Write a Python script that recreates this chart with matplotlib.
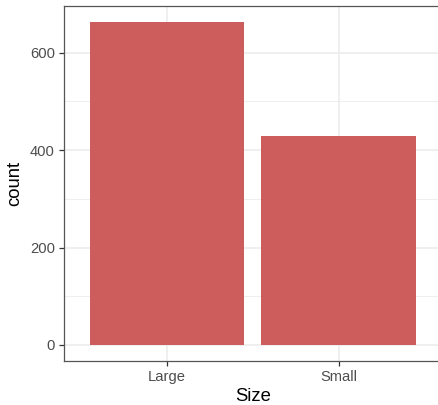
import numpy as np
import matplotlib.pyplot as plt
from matplotlib.ticker import MultipleLocator

plt.rcParams['font.family'] = ['Liberation Sans', 'DejaVu Sans']

# Counts per Size category
categories = ['Large', 'Small']
counts = [663, 430]

fig = plt.figure(figsize=(4.38, 4.05), dpi=100)
# panel runs slightly past the right edge, as in the reference
ax = fig.add_axes([64/438, 44/405, (441.7-64)/438, (399-44)/405])

x = np.arange(len(categories))
ax.bar(x, counts, width=0.9, color='#CD5C5C', zorder=2)

ax.set_xlim(-0.6, len(categories) - 0.4)
ymax = max(counts)
ax.set_ylim(-0.05*ymax, 1.05*ymax)
ax.set_xticks(x)
ax.set_xticklabels(categories)
ax.yaxis.set_major_locator(MultipleLocator(200))
ax.yaxis.set_minor_locator(MultipleLocator(100))

ax.grid(which='major', color='#EBEBEB', linewidth=1.1, zorder=0)
ax.grid(which='minor', axis='y', color='#EBEBEB', linewidth=0.6, zorder=0)
ax.set_axisbelow(True)

for s in ax.spines.values():
    s.set_color('#555555')
    s.set_linewidth(0.9)

ax.tick_params(which='major', length=3.5, width=0.9, color='#333333',
               labelcolor='#4D4D4D', labelsize=10.6, pad=3)
ax.tick_params(which='minor', length=0)

ax.set_xlabel('Size', fontsize=13.3, color='black', labelpad=3)
ax.set_ylabel('count', fontsize=13.3, color='black', labelpad=5)

fig.savefig('out.png', dpi=100)
